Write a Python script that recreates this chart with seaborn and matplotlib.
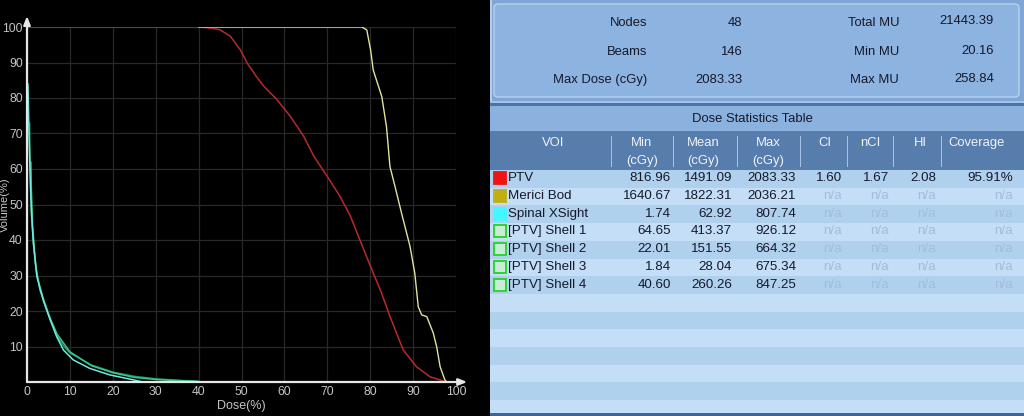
import matplotlib
matplotlib.use("Agg")
import matplotlib.pyplot as plt
from matplotlib.patches import Rectangle, FancyBboxPatch
import seaborn as sns

# ---------------- data ----------------
ptv_dose = [0, 40, 43, 45, 47.4, 49.7, 51.5, 53.5, 55.2, 58.3, 61.4, 64.5, 66.9, 70, 73, 75.4,
            77.6, 80.1, 82.5, 84.6, 87.7, 90.8, 93.9, 97, 97.8]
ptv_vol = [100, 100, 99.7, 99.2, 97.4, 93.6, 89.5, 86, 83.3, 79.5, 74.8, 69.2, 63.5, 57.9, 52.2, 46.7,
           40, 32.5, 25.5, 18.5, 9, 4.3, 1.5, 0.3, 0]

bod_dose = [40, 78.0, 79.2, 80.1, 80.7, 82.7, 83.8, 84.6, 85.8, 87.3, 89.3, 90.4, 91.2, 92.0,
            93.2, 94.7, 95.5, 96.3, 97.4, 97.8]
bod_vol = [100, 100, 99.2, 93.5, 87.9, 80.4, 71.9, 60.7, 55, 47.6, 38.1, 30.6, 21.2, 18.9,
           18.4, 13.8, 9.9, 4.3, 0.6, 0]

spinal_dose = [0.2, 0.3, 0.5, 0.8, 1.1, 1.5, 2.3, 3.8, 5.4, 6.9, 8.5, 10.8, 14.7, 19.3, 24.8, 27]
spinal_vol = [84, 80, 68, 55, 46.6, 39, 29.7, 23, 17.5, 12.8, 9, 6.2, 3.8, 2, 0.6, 0]

shell_a_dose = [0.6, 0.7, 1.0, 1.5, 2.3, 3.8, 5.4, 7, 8.5, 10, 15, 20, 25, 30, 35, 40]
shell_a_vol = [73, 65, 48, 39, 30, 23.5, 18, 13, 10.2, 8.2, 4.8, 2.8, 1.6, 0.9, 0.5, 0.2]
shell_b_dose = [0.9, 1.0, 1.3, 2, 3, 5, 7, 10, 15, 20, 25, 30, 40]
shell_b_vol = [62, 55, 44, 33, 26, 19, 13.5, 8.5, 4.6, 2.6, 1.3, 0.7, 0.1]

x_ticks = [0, 10, 20, 30, 40, 50, 60, 70, 80, 90, 100]
y_ticks = [10, 20, 30, 40, 50, 60, 70, 80, 90, 100]

info_left_labels = ["Nodes", "Beams", "Max Dose (cGy)"]
info_left_values = ["48", "146", "2083.33"]
info_right_labels = ["Total MU", "Min MU", "Max MU"]
info_right_values = ["21443.39", "20.16", "258.84"]

table_title = "Dose Statistics Table"
headers_top = ["VOI", "Min", "Mean", "Max", "CI", "nCI", "HI", "Coverage"]
headers_bottom = ["", "(cGy)", "(cGy)", "(cGy)", "", "", "", ""]
voi_names = ["PTV", "Merici Bod", "Spinal XSight", "[PTV] Shell 1", "[PTV] Shell 2",
             "[PTV] Shell 3", "[PTV] Shell 4"]
voi_min = ["816.96", "1640.67", "1.74", "64.65", "22.01", "1.84", "40.60"]
voi_mean = ["1491.09", "1822.31", "62.92", "413.37", "151.55", "28.04", "260.26"]
voi_max = ["2083.33", "2036.21", "807.74", "926.12", "664.32", "675.34", "847.25"]
voi_ci = ["1.60", "n/a", "n/a", "n/a", "n/a", "n/a", "n/a"]
voi_nci = ["1.67", "n/a", "n/a", "n/a", "n/a", "n/a", "n/a"]
voi_hi = ["2.08", "n/a", "n/a", "n/a", "n/a", "n/a", "n/a"]
voi_cov = ["95.91%", "n/a", "n/a", "n/a", "n/a", "n/a", "n/a"]

# ---------------- figure ----------------
sns.set_style("dark")
plt.rcParams["font.family"] = ["Liberation Sans", "DejaVu Sans"]

W, H = 1024, 416
fig = plt.figure(figsize=(W / 100, H / 100), dpi=100, facecolor="black")

ax = fig.add_axes([27 / W, (H - 382) / H, (456 - 27) / W, (382 - 27) / H])
ax.set_facecolor("black")

sns.lineplot(x=ptv_dose, y=ptv_vol, color="#b82a2a", lw=1.1, ax=ax, estimator=None, sort=False)
sns.lineplot(x=bod_dose, y=bod_vol, color="#e2e29c", lw=1.0, ax=ax, estimator=None, sort=False)
sns.lineplot(x=shell_a_dose, y=shell_a_vol, color="#1f9a62", lw=1.1, ax=ax, estimator=None, sort=False)
sns.lineplot(x=shell_b_dose, y=shell_b_vol, color="#3cc48a", lw=1.1, ax=ax, estimator=None, sort=False)
sns.lineplot(x=spinal_dose, y=spinal_vol, color="#6ee8e0", lw=1.1, ax=ax, estimator=None, sort=False)

ax.set_xlim(0, 100)
ax.set_ylim(0, 100)
ax.set_xticks(x_ticks)
ax.set_yticks(y_ticks)
ax.set_xticklabels([str(v) for v in x_ticks])
ax.set_yticklabels([str(v) for v in y_ticks])
ax.tick_params(axis="both", length=0, colors="#c4c4c4", labelsize=8.8)
ax.tick_params(axis="x", pad=3)
ax.tick_params(axis="y", pad=3)
ax.grid(True, color="#282828", lw=0.9)
ax.set_axisbelow(True)
for s in ax.spines.values():
    s.set_visible(False)
ax.set_xlabel("Dose(%)", color="#c4c4c4", fontsize=9, labelpad=1)
ax.set_ylabel("")

# axis arrows
ax.annotate("", xy=(1.026, 0), xytext=(0, 0), xycoords="axes fraction",
            arrowprops=dict(arrowstyle="-|>,head_length=0.5,head_width=0.2", color="#e6e6e6", lw=1.6,
                            shrinkA=0, shrinkB=0), annotation_clip=False)
ax.annotate("", xy=(0, 1.031), xytext=(0, 0), xycoords="axes fraction",
            arrowprops=dict(arrowstyle="-|>,head_length=0.5,head_width=0.2", color="#e6e6e6", lw=1.6,
                            shrinkA=0, shrinkB=0), annotation_clip=False)

fig.text(5 / W, 1 - 205 / H, "Volume(%)", rotation=90, color="#c4c4c4", fontsize=8,
         ha="center", va="center")

# ---------------- right panel ----------------
tx = fig.add_axes([490 / W, 0, 534 / W, 1])
tx.set_xlim(490, 1024)
tx.set_ylim(416, 0)
tx.axis("off")
tx.add_patch(Rectangle((490, 0), 534, 416, fc="#7ea6d6", ec="none"))
tx.add_patch(Rectangle((490, 0), 1.5, 416, fc="#b8cde8", ec="none"))

# info box
tx.add_patch(FancyBboxPatch((494, 4), 525, 93, boxstyle="round,pad=0,rounding_size=4",
                            fc="#8db3e0", ec="#bcd1ec", lw=1.0))
info_y = [23, 52, 80]
txt_dark = "#15192a"
for i in range(3):
    tx.text(647, info_y[i], info_left_labels[i], ha="right", va="center", fontsize=9.4, color=txt_dark)
    tx.text(742, info_y[i], info_left_values[i], ha="right", va="center", fontsize=9.4, color=txt_dark)
    tx.text(899, info_y[i], info_right_labels[i], ha="right", va="center", fontsize=9.4, color=txt_dark)
    tx.text(994, info_y[i] - 1.5, info_right_values[i], ha="right", va="center", fontsize=9.4, color=txt_dark)

# separator
tx.add_patch(Rectangle((490, 101), 534, 2, fc="#a6c2e6", ec="none"))
tx.add_patch(Rectangle((490, 103), 534, 3, fc="#4a73a8", ec="none"))

# title band
tx.add_patch(Rectangle((490, 106), 534, 25, fc="#8bb1de", ec="none"))
tx.text(752, 119, table_title, ha="center", va="center", fontsize=9.4, color=txt_dark)

# header band
tx.add_patch(Rectangle((490, 131), 534, 39, fc="#567dac", ec="none"))
head_cx = [553, 642, 703, 768, 825, 870, 920, 977]
for i in range(len(headers_top)):
    tx.text(head_cx[i], 143, headers_top[i], ha="center", va="center", fontsize=9.4, color="#eef3fa")
    if headers_bottom[i]:
        tx.text(head_cx[i], 161, headers_bottom[i], ha="center", va="center", fontsize=9.4, color="#eef3fa")
for sx in [611, 673, 737, 800, 847, 893, 941]:
    tx.add_patch(Rectangle((sx, 136), 1, 31, fc="#a8c1e2", ec="none"))

# rows
row_top, row_h = 170, 17.7
n_rows = 14
for k in range(n_rows):
    y0 = row_top + k * row_h
    h = min(row_h, 413 - y0)
    tx.add_patch(Rectangle((490, y0), 534, h, fc="#b0d1ee" if k % 2 == 0 else "#c3def6", ec="none"))
tx.add_patch(Rectangle((490, 413), 534, 3, fc="#3c64a2", ec="none"))

sw_face = ["#ee1414", "#c0ae12", "#44f6ff", "#c8ecd8", "#c8ecd8", "#c8ecd8", "#c8ecd8"]
sw_edge = ["#ee1414", "#c0ae12", "#44f6ff", "#22d422", "#22d422", "#22d422", "#22d422"]
col_right = [671, 732, 796, 842, 889, 936, 1013]
cols = [voi_min, voi_mean, voi_max, voi_ci, voi_nci, voi_hi, voi_cov]
for r in range(len(voi_names)):
    cy = row_top + r * row_h + row_h / 2 - 0.5
    tx.add_patch(Rectangle((494, cy - 6), 11.5, 12, fc=sw_face[r], ec=sw_edge[r], lw=1.3))
    tx.text(508, cy, voi_names[r], ha="left", va="center", fontsize=9.6, color=txt_dark)
    for c in range(len(cols)):
        val = cols[c][r]
        color = "#a3bdd9" if val == "n/a" else txt_dark
        tx.text(col_right[c], cy, val, ha="right", va="center", fontsize=9.6, color=color)

fig.savefig("out.png", dpi=100, facecolor="black")
